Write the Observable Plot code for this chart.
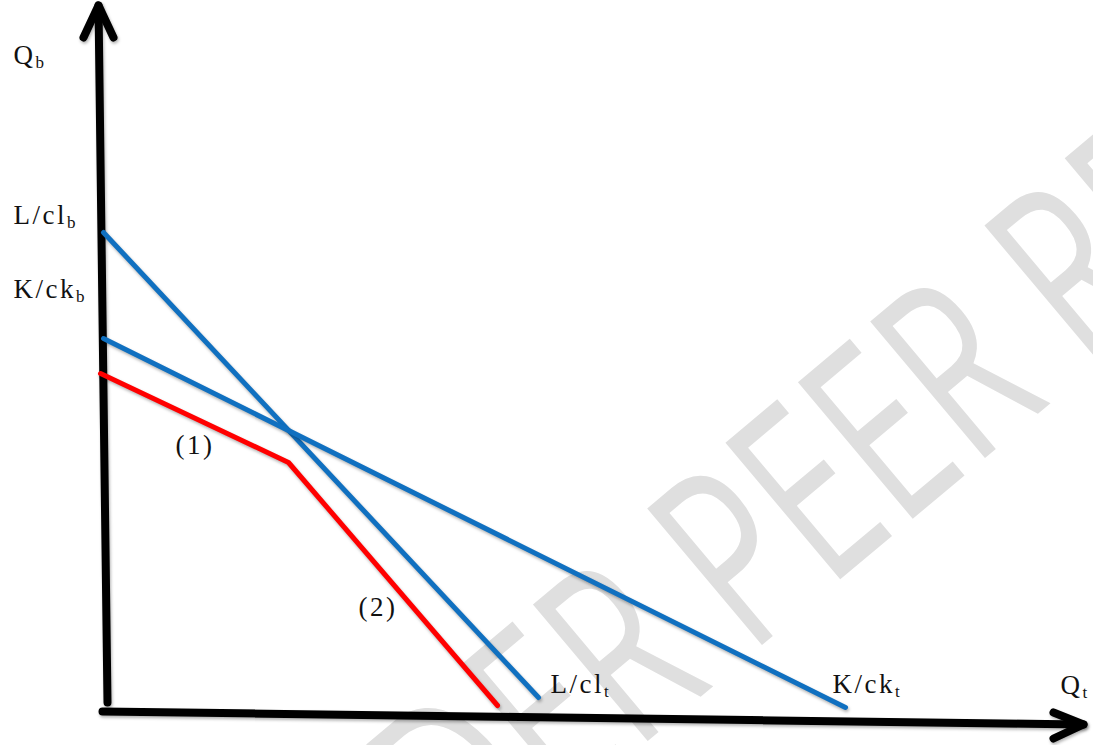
<!DOCTYPE html>
<html>
<head>
<meta charset="utf-8">
<script src="https://cdn.jsdelivr.net/npm/d3@7"></script>
<script src="https://cdn.jsdelivr.net/npm/@observablehq/plot@0.6"></script>
<style>
  html, body { margin: 0; padding: 0; background: #fff; }
  #chart svg { display: block; }
</style>
</head>
<body>
<div id="chart"></div>
<script>
// Schematic chart: origin of Q_t / Q_b at (0,0)
const yAxisShaft = [{x: 3, y: 8}, {x: -6, y: 705}];
const yAxisHead  = [{x: -21, y: 673}, {x: -6, y: 705}, {x: 9, y: 673}];
const xAxisShaft = [{x: -2, y: -1}, {x: 979, y: -14}];
const xAxisHead  = [{x: 949, y: -2}, {x: 979, y: -14}, {x: 949, y: -28}];

const lineL = [{x: -1, y: 478}, {x: 434, y: 13}];   // L/cl line
const lineK = [{x: -1, y: 372}, {x: 741, y: 3}];    // K/ck line
const frontier = [{x: -4, y: 337}, {x: 184, y: 248}, {x: 393, y: 5}]; // red kinked frontier

const labelMain = ["Q", "L/cl", "K/ck", "L/cl", "K/ck", "Q", "(1)", "(2)"];
const labelSub  = ["b", "b", "b", "t", "t", "t", "", ""];
const labelX    = [-91, -91, -91, 446, 728, 956, 71, 254];
const labelY    = [647, 487, 413, 18, 18, 17, 257, 95];

const watermarkText = ["UNDER PEER REVIEW"];
const watermarkX = [806];
const watermarkY = [190];

const labels = labelMain.map((m, i) => ({main: m, sub: labelSub[i], x: labelX[i], y: labelY[i]}));
const watermark = watermarkText.map((t, i) => ({text: t, x: watermarkX[i], y: watermarkY[i]}));

const serif = "'Palatino Linotype', 'Book Antiqua', Palatino, 'Liberation Serif', serif";

const plot = Plot.plot({
  width: 1093,
  height: 745,
  margin: 0,
  x: {domain: [-104, 989], range: [0, 1093], axis: null},
  y: {domain: [-35, 710], range: [745, 0], axis: null},
  marks: [
    Plot.text(watermark, {x: "x", y: "y", text: "text", rotate: -40, fontSize: 250,
      fill: "#dfdfdf", fontFamily: "'Open Sans', sans-serif", fontWeight: 400, textAnchor: "middle"}),
    Plot.line(yAxisShaft, {x: "x", y: "y", stroke: "black", strokeWidth: 8, strokeLinecap: "round"}),
    Plot.line(yAxisHead, {x: "x", y: "y", stroke: "black", strokeWidth: 8, strokeLinecap: "round", strokeLinejoin: "round"}),
    Plot.line(xAxisShaft, {x: "x", y: "y", stroke: "black", strokeWidth: 8, strokeLinecap: "round"}),
    Plot.line(xAxisHead, {x: "x", y: "y", stroke: "black", strokeWidth: 8, strokeLinecap: "round", strokeLinejoin: "round"}),
    Plot.line(lineL, {x: "x", y: "y", stroke: "#1070c0", strokeWidth: 5}),
    Plot.line(lineK, {x: "x", y: "y", stroke: "#1070c0", strokeWidth: 5}),
    Plot.line(frontier, {x: "x", y: "y", stroke: "#ff0000", strokeWidth: 5}),
    Plot.text(labels, {x: "x", y: "y", text: "main", textAnchor: "start", lineAnchor: "bottom",
      fontSize: 27, fontFamily: serif, fill: "#111"})
  ]
});

const xs = plot.scale("x"), ys = plot.scale("y");
const groups = d3.select(plot).selectAll('g[aria-label="text"]').nodes();

// watermark: rotated, condensed glyphs
d3.select(groups[0]).selectAll("text").each(function(_, i) {
  const d = watermark[i];
  d3.select(this)
    .attr("x", null).attr("y", null)
    .attr("transform", `translate(${xs.apply(d.x)},${ys.apply(d.y)}) rotate(-40) scale(0.68,1)`);
});

// soft shadow under the drawn lines, as in the source figure
d3.select(plot).selectAll('g[aria-label="line"]')
  .style("filter", "drop-shadow(1px 2px 1.5px rgba(0,0,0,0.3))");

// subscripts as tspans
d3.select(groups[groups.length - 1]).selectAll("text").each(function(_, i) {
  d3.select(this).attr("letter-spacing", 2.5);
  if (labels[i].sub) {
    d3.select(this).append("tspan").attr("font-size", 17).attr("dy", 4).attr("letter-spacing", 0).text(labels[i].sub);
  }
});

document.getElementById("chart").appendChild(plot);
</script>
</body>
</html>
